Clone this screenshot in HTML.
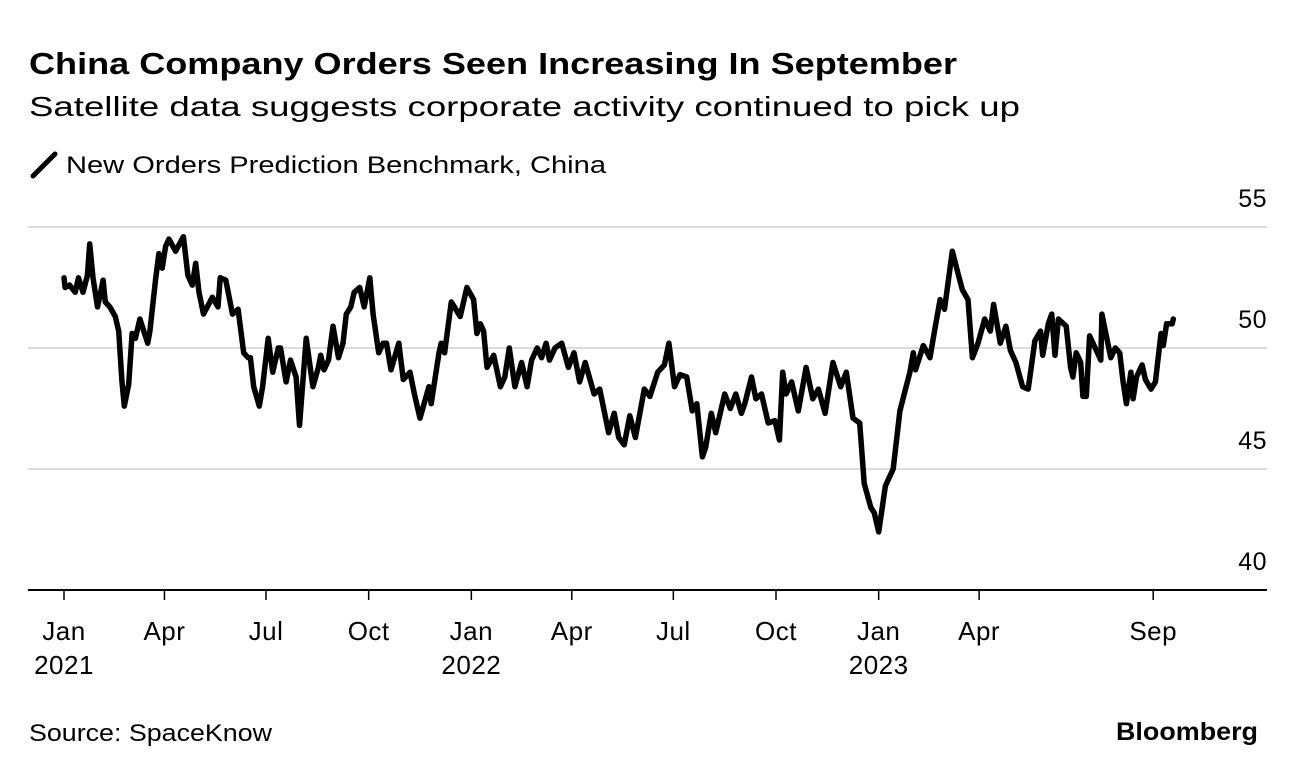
<!DOCTYPE html>
<html><head><meta charset="utf-8">
<style>
html,body{margin:0;padding:0;background:#fff;}
body{width:1296px;height:774px;overflow:hidden;font-family:"Liberation Sans",Arial,sans-serif;}
svg text{font-family:"Liberation Sans",Arial,sans-serif;}
</style></head>
<body>
<svg id="chart" width="1296" height="774" viewBox="0 0 1296 774">
  <text x="29" y="74" font-size="31" font-weight="bold" fill="#000" textLength="928" lengthAdjust="spacingAndGlyphs">China Company Orders Seen Increasing In September</text>
  <text x="29" y="116" font-size="28" fill="#000" textLength="991" lengthAdjust="spacingAndGlyphs">Satellite data suggests corporate activity continued to pick up</text>
  <g>
    <line x1="33" y1="176" x2="55" y2="154" stroke="#000" stroke-width="5" stroke-linecap="round"/>
    <text x="66" y="173" font-size="24" fill="#000" textLength="540" lengthAdjust="spacingAndGlyphs">New Orders Prediction Benchmark, China</text>
  </g>
  <g id="grid"></g>
  <g id="yticks"></g>
  <g id="xticks"></g>
  <path id="series" fill="none" stroke="#000" stroke-width="5.5" stroke-linejoin="round" stroke-linecap="round"/>
  <text x="29" y="741" font-size="24" fill="#000" textLength="243" lengthAdjust="spacingAndGlyphs">Source: SpaceKnow</text>
  <text x="1258" y="740" font-size="25" font-weight="bold" fill="#000" text-anchor="end" textLength="142" lengthAdjust="spacingAndGlyphs">Bloomberg</text>
</svg>
<script>
const days = [0,1,5,10,13,17,21,23,26,30,32,35,37,41,46,49,52,54,58,61,64,68,75,77,82,85,88,91,94,100,107,111,115,118,121,125,133,138,140,145,151,156,161,165,167,170,175,178,183,187,192,194,199,203,208,211,217,223,228,230,233,237,241,246,250,253,257,260,265,269,274,277,282,286,289,293,300,304,310,314,319,327,329,336,338,341,347,355,361,367,370,373,376,379,385,391,395,399,404,410,415,419,424,428,432,435,440,446,452,457,462,467,475,480,488,493,497,502,507,512,520,525,532,538,542,547,552,558,563,567,572,575,580,584,592,597,602,607,610,616,620,625,631,637,641,644,647,652,658,665,671,676,682,689,696,701,707,713,717,723,726,730,736,743,749,754,758,761,763,770,776,780,785,789,796,801,805,810,814,819,825,830,833,839,844,848,853,859,864,870,875,877,882,885,888,891,898,902,904,907,911,913,916,919,924,929,930,934,938,942,946,949,952,956,958,961,966,969,974,978,983,985,988,993,994];
const values = [52.9,52.5,52.6,52.3,52.9,52.3,53.0,54.3,52.9,51.7,52.1,52.8,51.9,51.7,51.3,50.7,48.6,47.6,48.5,50.6,50.4,51.2,50.2,50.7,52.8,53.9,53.3,54.2,54.5,54.0,54.6,53.0,52.6,53.5,52.3,51.4,52.1,51.7,52.9,52.8,51.4,51.6,49.8,49.6,49.6,48.4,47.6,48.4,50.4,49.0,50.0,50.0,48.6,49.5,48.8,46.8,50.4,48.4,49.2,49.7,49.1,49.5,50.9,49.6,50.2,51.4,51.7,52.3,52.5,51.7,52.9,51.4,49.8,50.2,50.2,49.1,50.2,48.7,49.0,48.1,47.1,48.4,47.7,49.8,50.2,49.8,51.9,51.3,52.5,52.0,50.6,51.0,50.7,49.2,49.7,48.4,48.8,50.0,48.4,49.4,48.4,49.5,50.0,49.6,50.2,49.5,50.0,50.2,49.2,49.8,48.6,49.4,48.1,48.3,46.5,47.3,46.3,46.0,47.2,46.3,48.3,48.0,49.0,49.3,50.2,48.4,48.9,48.8,47.4,47.7,45.5,45.9,47.3,46.5,48.1,47.5,48.1,47.3,47.7,48.8,47.9,48.1,46.9,47.0,46.2,49.0,48.1,48.6,47.4,49.2,47.9,48.3,47.3,49.4,48.4,49.0,47.1,46.9,44.4,43.4,43.2,42.4,44.3,45.0,47.4,48.3,49.0,49.8,49.1,50.1,49.6,50.7,52.0,51.6,54.0,53.1,52.4,52.0,49.6,50.2,51.2,50.7,51.8,50.2,50.9,49.9,49.4,48.4,48.3,50.3,50.7,49.7,51.0,51.4,49.7,51.2,50.9,49.2,48.8,49.8,49.4,48.0,48.0,50.5,50.0,49.5,51.4,50.5,49.6,50.0,49.8,48.6,47.7,49.0,47.9,48.8,49.3,48.7,48.3,48.6,50.6,50.1,51.0,51.0,51.2];
const yTicks = [40,45,50,55];
const xTickDays = [0,90,181,273,365,455,546,638,730,820,976];
const xTickLabels = ["Jan","Apr","Jul","Oct","Jan","Apr","Jul","Oct","Jan","Apr","Sep"];
const xYearLabels = ["2021","","","","2022","","","","2023","",""];

const NS="http://www.w3.org/2000/svg";
const X0=64, PX_PER_DAY=1.116;
function xs(d){return X0+d*PX_PER_DAY;}
function ys(v){return 590-(v-40)*24.2;}
function mk(tag,attrs,parent){const e=document.createElementNS(NS,tag);for(const k in attrs)e.setAttribute(k,attrs[k]);parent.appendChild(e);return e;}

const grid=document.getElementById('grid'), yt=document.getElementById('yticks'), xt=document.getElementById('xticks');
yTicks.forEach(v=>{
  if(v!==40){
    const l=mk('line',{x1:28,x2:1267,y1:ys(v),y2:ys(v),stroke:'#dcdcdc','stroke-width':2},grid);
    
    
  }
  const t=mk('text',{x:1267,y:ys(v)-20,'font-size':25,'text-anchor':'end',fill:'#000','letter-spacing':'0.5'},yt);
  t.textContent=v;
  
  
});
const base=mk('line',{x1:28,x2:1267,y1:590,y2:590,stroke:'#000','stroke-width':2},grid);


xTickDays.forEach((d,i)=>{
  const x=xs(d);
  const tk=mk('line',{x1:x,x2:x,y1:590,y2:600,stroke:'#000','stroke-width':1.5},xt);
  
  
  const t=mk('text',{x:x,y:640,'font-size':26,'text-anchor':'middle',fill:'#000','letter-spacing':'0.5'},xt);
  t.textContent=xTickLabels[i];
  
  
  if(xYearLabels[i]){
    const y=mk('text',{x:x,y:674,'font-size':26,'text-anchor':'middle',fill:'#000','letter-spacing':'0.5'},xt);
    y.textContent=xYearLabels[i];
    
    
  }
});
let dstr='';
days.forEach((d,i)=>{dstr+=(i?'L':'M')+xs(d).toFixed(1)+','+ys(values[i]).toFixed(1);});
document.getElementById('series').setAttribute('d',dstr);
</script>
</body></html>
